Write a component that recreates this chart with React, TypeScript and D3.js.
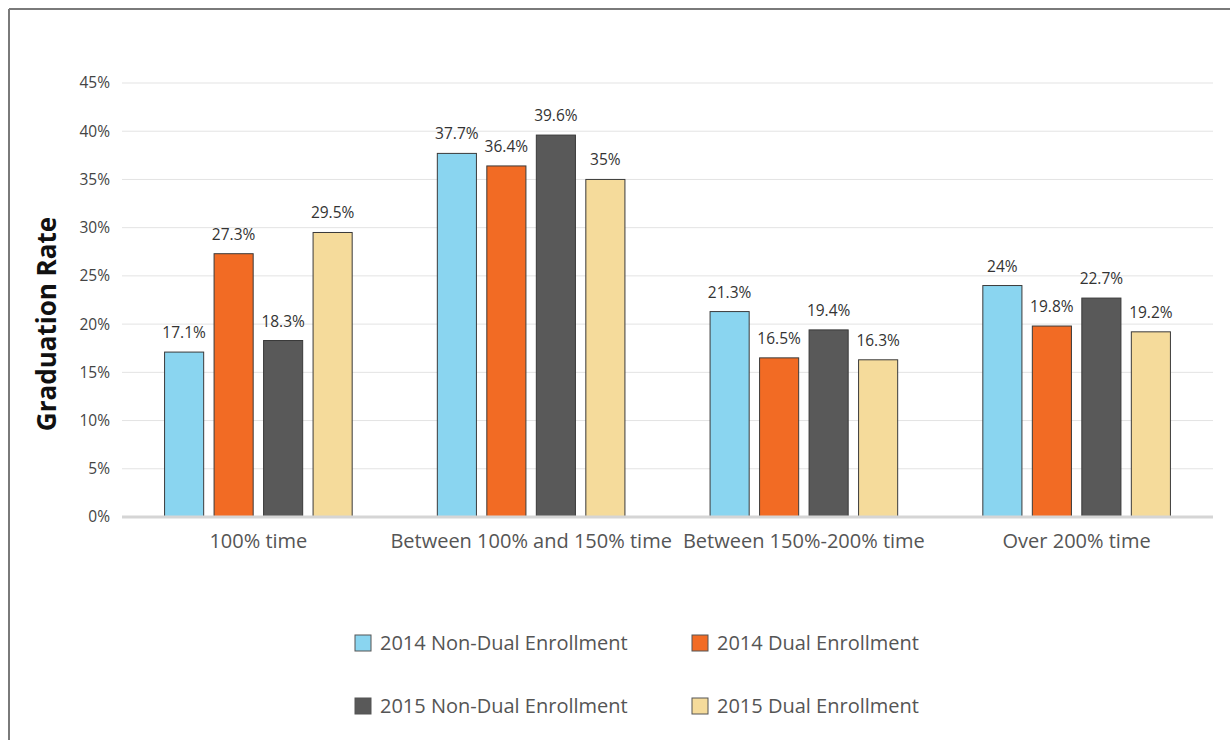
import React from "react";
import * as d3 from "d3";

const categories = ["100% time", "Between 100% and 150% time", "Between 150%-200% time", "Over 200% time"];
const seriesNames = ["2014 Non-Dual Enrollment", "2014 Dual Enrollment", "2015 Non-Dual Enrollment", "2015 Dual Enrollment"];
const seriesColors = ["#8ad5f0", "#f26b24", "#595959", "#f5db9b"];
const nonDual2014 = [17.1, 37.7, 21.3, 24];
const dual2014 = [27.3, 36.4, 16.5, 19.8];
const nonDual2015 = [18.3, 39.6, 19.4, 22.7];
const dual2015 = [29.5, 35, 16.3, 19.2];
const yTicks = [0, 5, 10, 15, 20, 25, 30, 35, 40, 45];

const seriesValues = [nonDual2014, dual2014, nonDual2015, dual2015];

const FONT = "'Open Sans', sans-serif";

export default function App() {
  const W = 1230, H = 740;
  const left = 122, right = 1213, top = 83, bottom = 517;
  const x0 = d3.scaleBand<string>().domain(categories).range([left, right]).padding(0);
  const x1 = d3.scaleBand<string>().domain(seriesNames).range([0, x0.bandwidth()]).paddingInner(0.21).paddingOuter(0.86);
  const y = d3.scaleLinear().domain([0, 45]).range([bottom, top]);

  return (
    <svg width={W} height={H} style={{ position: "absolute", left: 0, top: 0, fontFamily: FONT }}>
      <rect x={0} y={0} width={W} height={H} fill="#fff" />
      <line x1={9} y1={9} x2={W} y2={9} stroke="#7a7a7a" strokeWidth={2} />
      <line x1={9} y1={9} x2={9} y2={H} stroke="#7a7a7a" strokeWidth={2} />
      {yTicks.map((t) => (
        <g key={t}>
          {t > 0 && <line x1={left} x2={right} y1={y(t)} y2={y(t)} stroke="#e3e3e3" strokeWidth={1} />}
          <text x={110} y={y(t)} dy="0.35em" textAnchor="end" fontSize={15.5} fill="#444">{t}%</text>
        </g>
      ))}
      <text transform={`translate(56,324) rotate(-90)`} textAnchor="middle" fontSize={26} fontWeight={700} fill="#111">Graduation Rate</text>
      {categories.map((c, ci) => (
        <g key={c} transform={`translate(${x0(c)},0)`}>
          {seriesNames.map((s, si) => {
            const v = seriesValues[si][ci];
            const bx = x1(s)!;
            return (
              <g key={s}>
                <rect x={bx} y={y(v)} width={x1.bandwidth()} height={bottom - y(v)} fill={seriesColors[si]} stroke="#3a3a3a" strokeWidth={1} />
                <text x={bx + x1.bandwidth() / 2} y={y(v) - 14} textAnchor="middle" fontSize={15.5} fill="#333">{v}%</text>
              </g>
            );
          })}
          <text x={x0.bandwidth() / 2} y={548} textAnchor="middle" fontSize={20} fill="#555">{c}</text>
        </g>
      ))}
      <line x1={left} x2={right} y1={bottom} y2={bottom} stroke="#d5d5d5" strokeWidth={3} />
      {seriesNames.map((s, i) => {
        const lx = i % 2 === 0 ? 355 : 692;
        const ly = i < 2 ? 643 : 706;
        return (
          <g key={s}>
            <rect x={lx} y={ly - 8} width={16} height={16} fill={seriesColors[i]} stroke="#555" strokeWidth={1} />
            <text x={lx + 25} y={ly} dy="0.35em" fontSize={20} fill="#555">{s}</text>
          </g>
        );
      })}
    </svg>
  );
}
